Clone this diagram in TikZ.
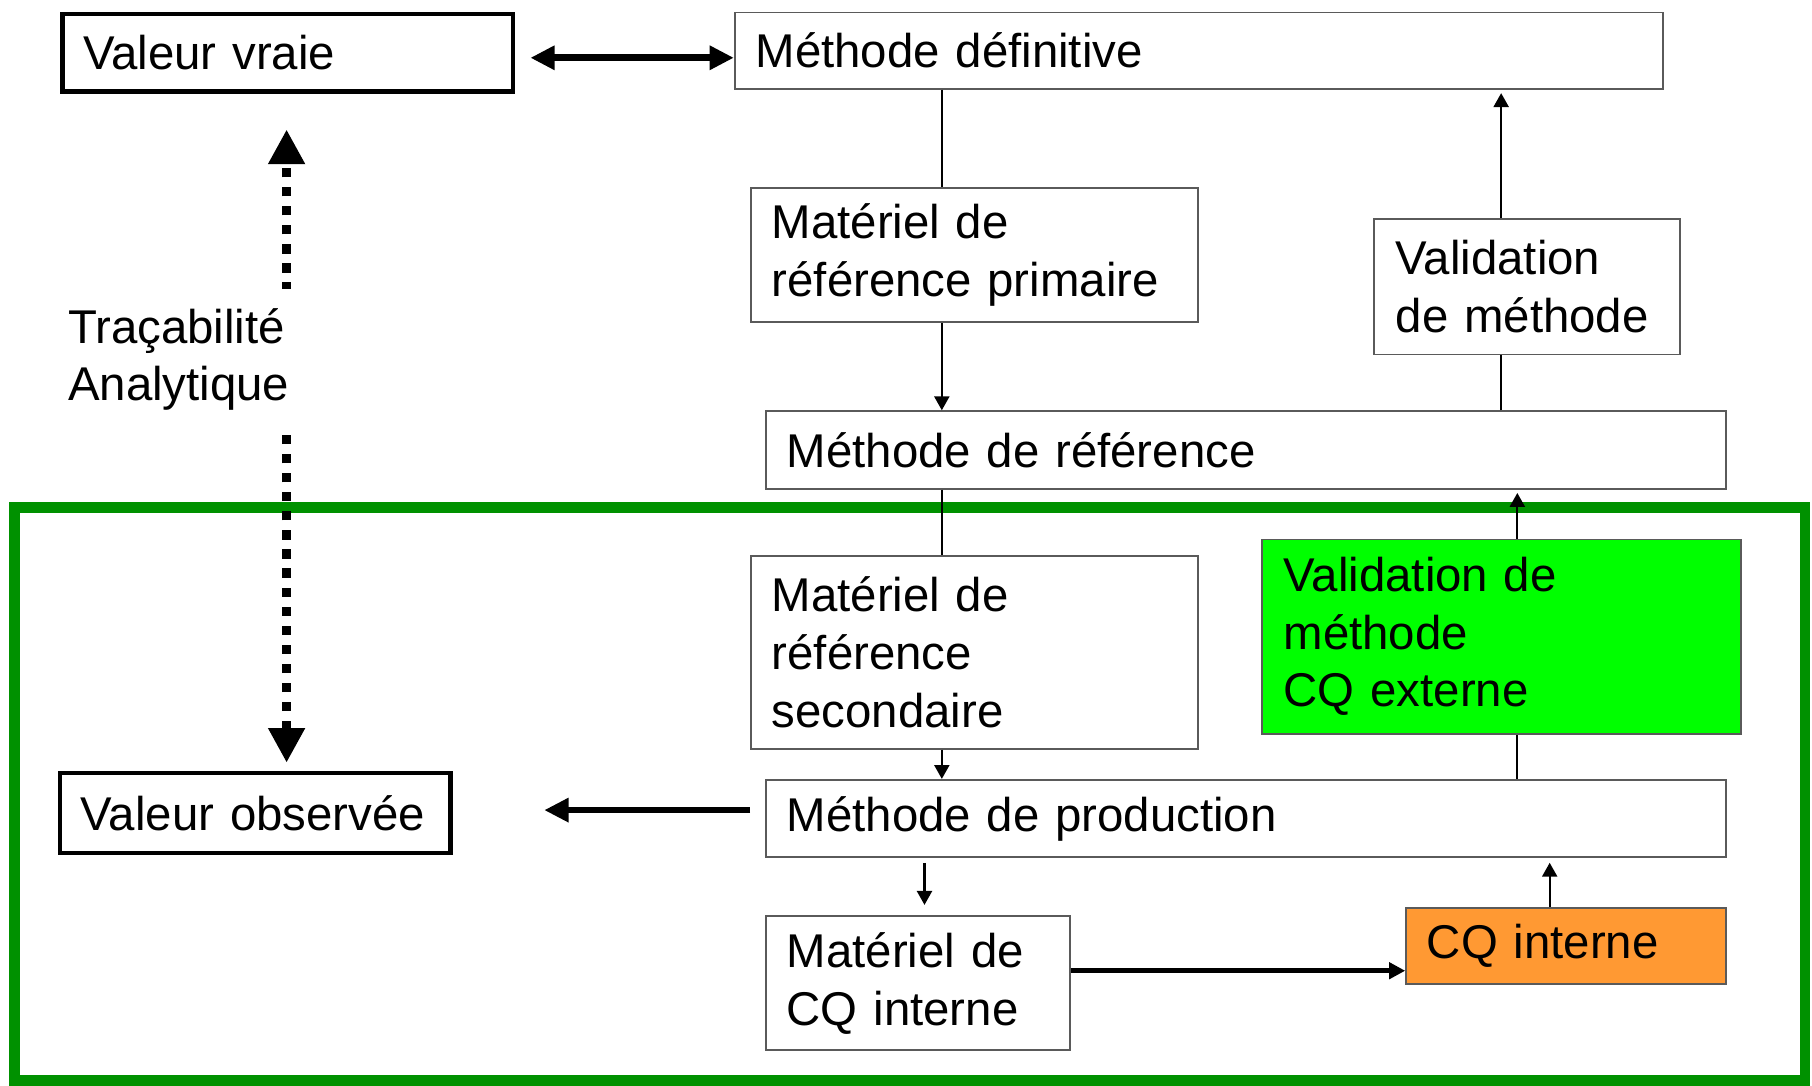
\documentclass[tikz,border=0pt]{standalone}
\usepackage{fontspec}
\setmainfont{Liberation Sans}
\usetikzlibrary{arrows.meta}
\definecolor{boxgray}{HTML}{5A5A5A}
\definecolor{framegreen}{HTML}{009100}
\definecolor{brightgreen}{HTML}{00FF00}
\definecolor{cqorange}{HTML}{FF9933}
\begin{document}
\begin{tikzpicture}[x=0.5pt,y=-0.5pt,
  box/.style={draw=boxgray, line width=0.8pt, anchor=north west, align=left,
    inner xsep=9pt, inner ysep=0pt, font=\fontsize{20.5}{25}\selectfont},
  boldbox/.style={box, draw=black, line width=2pt},
  conn/.style={line width=0.9pt, -{Triangle[length=6pt,width=6.5pt]}},
  plain/.style={line width=0.9pt},
  dbl/.style={line width=3pt, {Triangle[length=10.5pt,width=10pt]}-{Triangle[length=10.5pt,width=10pt]}},
  thickarrow/.style={line width=2.5pt, -{Triangle[length=10.5pt,width=10pt]}},
  midarrow/.style={line width=2pt, -{Triangle[length=7pt,width=7pt]}},
  dots/.style={line width=4pt, dash pattern=on 4pt off 4.25pt,
    {Triangle[length=15pt,width=15pt]}-{Triangle[length=15pt,width=15pt]}},
  label/.style={align=left, fill=white, inner xsep=3.5pt, inner ysep=0pt,
    font=\fontsize{20.5}{25}\selectfont}
]
\fill[white] (0,0) rectangle (1568,939);
\useasboundingbox (0,0) rectangle (1568,939);

% green frame
\draw[framegreen, line width=4.5pt] (12.5,439) rectangle (1562,935);

% nodes
\node[boldbox, text width=177pt, minimum height=33.5pt] (vv) at (52,10) {Valeur vraie};
\node[box, text width=383.5pt, minimum height=33pt] (md) at (635,10) {Méthode définitive};
\node[box, text width=175.5pt, minimum height=58pt] (mrp) at (649,162) {Matériel de\\référence primaire};
\node[box, text width=113.5pt, minimum height=58.5pt, inner xsep=9.5pt] (vm) at (1188,189) {Validation\\de méthode};
\node[box, text width=397.5pt, minimum height=33.5pt] (mr) at (662,355) {Méthode de référence};
\node[box, text width=175.5pt, minimum height=83.5pt] (mrs) at (649,480) {Matériel de\\référence\\secondaire};
\node[box, fill=brightgreen, text width=188.5pt, minimum height=84pt, inner xsep=9.5pt] (vce) at (1091,466) {Validation de\\méthode\\CQ externe};
\node[boldbox, text width=151pt, minimum height=34.5pt] (vo) at (50,667) {Valeur~observée};
\node[box, text width=397.5pt, minimum height=33.5pt] (mp) at (662,674) {Méthode de production};
\node[box, text width=113.5pt, minimum height=58pt] (mcq) at (662,792) {Matériel de\\CQ interne};
\node[box, fill=cqorange, text width=120.5pt, minimum height=33pt] (cqi) at (1216,785) {CQ interne};

% helper coordinates
\coordinate (c815) at (815,0);
\coordinate (c1299) at (1299,0);
\coordinate (c1313) at (1313,0);
\coordinate (c800) at (800,0);
\coordinate (c1341) at (1341,0);
\coordinate (c248) at (248,0);
\coordinate (y50) at (0,50);
\coordinate (y701) at (0,701);
\coordinate (y840) at (0,840);

% connectors
\draw[dbl, shorten <=6.5pt] (vv.east |- y50) -- (md.west |- y50);
\draw[plain] (c815 |- md.south) -- (c815 |- mrp.north);
\draw[conn] (c815 |- mrp.south) -- (c815 |- mr.north);
\draw[conn, shorten >=1.5pt] (c1299 |- vm.north) -- (c1299 |- md.south);
\draw[plain] (c1299 |- mr.north) -- (c1299 |- vm.south);
\draw[plain] (c815 |- mr.south) -- (c815 |- mrs.north);
\draw[conn] (c815 |- mrs.south) -- (c815 |- mp.north);
\draw[conn, shorten >=1.5pt] (c1313 |- vce.north) -- (c1313 |- mr.south);
\draw[plain] (c1313 |- mp.north) -- (c1313 |- vce.south);
\draw[conn, shorten <=2pt, shorten >=4.5pt] (c800 |- mp.south) -- (c800 |- mcq.north);
\draw[midarrow] (mcq.east |- y840) -- (cqi.west |- y840);
\draw[conn, shorten >=2pt] (c1341 |- cqi.north) -- (c1341 |- mp.south);
\draw[thickarrow, shorten <=6.5pt, shorten >=39.5pt] (mp.west |- y701) -- (vo.east |- y701);

% traceability
\draw[dots, shorten <=3.5pt, shorten >=15.5pt] (c248 |- vo.north) -- (c248 |- vv.south);
\node[label, anchor=west, minimum height=61pt] (trace) at (51.5,311) {Traçabilité\\Analytique};
\end{tikzpicture}
\end{document}
